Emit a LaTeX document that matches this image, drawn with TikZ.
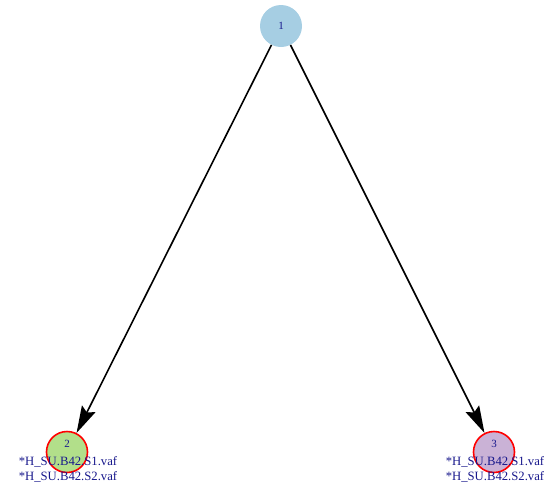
\documentclass[tikz,border=0pt]{standalone}
\usepackage{fontspec}
\setmainfont{Liberation Serif}
\usepackage{tikz}
\usetikzlibrary{arrows.meta}
\definecolor{vertexone}{RGB}{166,206,227}
\definecolor{vertextwo}{RGB}{178,223,138}
\definecolor{vertexthree}{RGB}{202,178,214}
\definecolor{labelblue}{RGB}{24,24,140}
\tikzset{
  vertex/.style={circle,minimum size=42pt,inner sep=0pt},
  marked/.style={draw=red,line width=1.6pt,minimum size=41pt},
  vnum/.style={text=labelblue,font=\fontsize{11}{13}\selectfont},
  vfiles/.style={text=labelblue,font=\fontsize{12.7}{15}\selectfont,align=center,inner sep=0pt},
  edge/.style={line width=1.6pt,-{Stealth[length=27pt,width=15pt,inset=4pt]}}
}
\newcommand{\vertexfiles}[3]{%
  \node[vfiles] (#1) at (#2,#3) {*H\_SU.B42.S1.vaf\\*H\_SU.B42.S2.vaf};%
}

\begin{document}
\begin{tikzpicture}[x=1pt,y=-1pt]
  \useasboundingbox (0,0) rectangle (547,483);
  \node[vertex,fill=vertexone] (v1) at (281,26) {};
  \node[vertex,marked,fill=vertextwo] (v2) at (67,452) {};
  \node[vertex,marked,fill=vertexthree] (v3) at (494,452) {};
  \node[vnum] (n1) at (281,26) {1};
  \node[vnum] (n2) at (67,444) {2};
  \node[vnum] (n3) at (494,444) {3};
  \vertexfiles{f2}{68}{469.5}
  \vertexfiles{f3}{495}{469.5}
  \draw[edge] (v1) -- (v2);
  \draw[edge] (v1) -- (v3);
\end{tikzpicture}
\end{document}
